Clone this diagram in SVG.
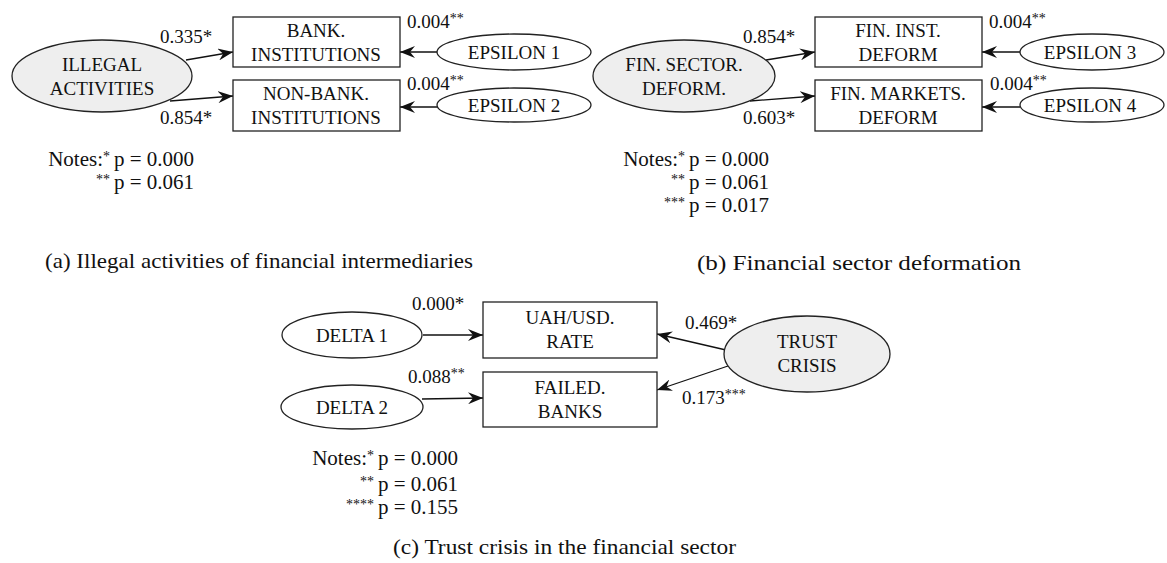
<svg xmlns="http://www.w3.org/2000/svg" width="1167" height="563" viewBox="0 0 1167 563">
<style>
text{font-family:"Liberation Serif","DejaVu Serif",serif;fill:#111}
.n{font-size:19px;text-anchor:middle}
.l{font-size:19px}
.note{font-size:21px}
.cap{font-size:22px}
.sup{font-size:14px}
.box{fill:#fff;stroke:#222;stroke-width:1.3}
.lat{fill:#eeeeee;stroke:#222;stroke-width:1.3}
.err{fill:#fff;stroke:#222;stroke-width:1.3}
.edge{stroke:#111;stroke-width:1.3;fill:none;marker-end:url(#ah)}
</style>
<defs>
<marker id="ah" markerUnits="userSpaceOnUse" markerWidth="16" markerHeight="12" refX="15" refY="6" orient="auto">
<path d="M0,0 L15,6 L0,12 L5,6 z" fill="#111"/>
</marker>
</defs>

<g id="connectors">
<line class="edge" x1="186" y1="60" x2="233" y2="52"/>
<line class="edge" x1="170" y1="101" x2="233" y2="96"/>
<line class="edge" x1="438" y1="52" x2="400" y2="52"/>
<line class="edge" x1="438" y1="107" x2="400" y2="107"/>
<line class="edge" x1="766" y1="60" x2="815" y2="52"/>
<line class="edge" x1="750" y1="101" x2="815" y2="96"/>
<line class="edge" x1="1020" y1="52" x2="982" y2="52"/>
<line class="edge" x1="1020" y1="107" x2="982" y2="107"/>
<line class="edge" x1="423" y1="335" x2="483" y2="335"/>
<line class="edge" x1="422" y1="399" x2="483" y2="398"/>
<line class="edge" x1="726" y1="350" x2="657" y2="334"/>
<line class="edge" x1="728" y1="366" x2="657" y2="390"/>
</g>

<g id="edge-labels">
<text class="l" x="160" y="43">0.335*</text>
<text class="l" x="160" y="124">0.854*</text>
<text class="l" x="407" y="28">0.004<tspan class="sup" dy="-5">**</tspan></text>
<text class="l" x="407" y="90">0.004<tspan class="sup" dy="-5">**</tspan></text>
<text class="l" x="743" y="43">0.854*</text>
<text class="l" x="743" y="124">0.603*</text>
<text class="l" x="989" y="28">0.004<tspan class="sup" dy="-5">**</tspan></text>
<text class="l" x="990" y="90">0.004<tspan class="sup" dy="-5">**</tspan></text>
<text class="l" x="412" y="310">0.000*</text>
<text class="l" x="408" y="383">0.088<tspan class="sup" dy="-5">**</tspan></text>
<text class="l" x="685" y="329">0.469*</text>
<text class="l" x="682" y="404">0.173<tspan class="sup" dy="-5">***</tspan></text>
</g>

<g id="illegal-activities">
<ellipse class="lat" cx="102" cy="76" rx="90" ry="36"/>
<text class="n" x="102" y="71">ILLEGAL</text>
<text class="n" x="102" y="95">ACTIVITIES</text>
</g>
<g id="bank-institutions">
<rect class="box" x="233" y="17" width="167" height="50"/>
<text class="n" x="316" y="37">BANK.</text>
<text class="n" x="316" y="61">INSTITUTIONS</text>
</g>
<g id="nonbank-institutions">
<rect class="box" x="233" y="80" width="167" height="51"/>
<text class="n" x="316" y="100">NON-BANK.</text>
<text class="n" x="316" y="124">INSTITUTIONS</text>
</g>
<g id="epsilon1">
<ellipse class="err" cx="514" cy="52" rx="77" ry="18"/>
<text class="n" x="514" y="59">EPSILON 1</text>
</g>
<g id="epsilon2">
<ellipse class="err" cx="514" cy="105" rx="77" ry="17"/>
<text class="n" x="514" y="112">EPSILON 2</text>
</g>

<g id="fin-sector-deform">
<ellipse class="lat" cx="684" cy="76" rx="91" ry="36"/>
<text class="n" x="684" y="71">FIN. SECTOR.</text>
<text class="n" x="684" y="95">DEFORM.</text>
</g>
<g id="fin-inst-deform">
<rect class="box" x="815" y="17" width="167" height="50"/>
<text class="n" x="898" y="37">FIN. INST.</text>
<text class="n" x="898" y="61">DEFORM</text>
</g>
<g id="fin-markets-deform">
<rect class="box" x="815" y="80" width="167" height="51"/>
<text class="n" x="898" y="100">FIN. MARKETS.</text>
<text class="n" x="898" y="124">DEFORM</text>
</g>
<g id="epsilon3">
<ellipse class="err" cx="1092" cy="52" rx="72" ry="18"/>
<text class="n" x="1090" y="59">EPSILON 3</text>
</g>
<g id="epsilon4">
<ellipse class="err" cx="1092" cy="105" rx="72" ry="17"/>
<text class="n" x="1090" y="112">EPSILON 4</text>
</g>

<g id="delta1">
<ellipse class="err" cx="352" cy="335" rx="70" ry="23"/>
<text class="n" x="352" y="342">DELTA 1</text>
</g>
<g id="delta2">
<ellipse class="err" cx="352" cy="407" rx="71" ry="22"/>
<text class="n" x="352" y="414">DELTA 2</text>
</g>
<g id="uah-usd-rate">
<rect class="box" x="483" y="302" width="174" height="56"/>
<text class="n" x="570" y="324">UAH/USD.</text>
<text class="n" x="570" y="348">RATE</text>
</g>
<g id="failed-banks">
<rect class="box" x="483" y="372" width="174" height="55"/>
<text class="n" x="570" y="394">FAILED.</text>
<text class="n" x="570" y="418">BANKS</text>
</g>
<g id="trust-crisis">
<ellipse class="lat" cx="807" cy="354" rx="83" ry="38"/>
<text class="n" x="807" y="348">TRUST</text>
<text class="n" x="807" y="372">CRISIS</text>
</g>

<g id="notes">
<text class="note" x="110" y="166" text-anchor="end">Notes:<tspan class="sup" dy="-5">*</tspan></text>
<text class="note" x="114" y="166">p = 0.000</text>
<text class="note" x="110" y="189" text-anchor="end"><tspan class="sup" dy="-5">**</tspan></text>
<text class="note" x="114" y="189">p = 0.061</text>

<text class="note" x="685" y="166" text-anchor="end">Notes:<tspan class="sup" dy="-5">*</tspan></text>
<text class="note" x="689" y="166">p = 0.000</text>
<text class="note" x="685" y="189" text-anchor="end"><tspan class="sup" dy="-5">**</tspan></text>
<text class="note" x="689" y="189">p = 0.061</text>
<text class="note" x="685" y="212" text-anchor="end"><tspan class="sup" dy="-5">***</tspan></text>
<text class="note" x="689" y="212">p = 0.017</text>

<text class="note" x="374" y="465" text-anchor="end">Notes:<tspan class="sup" dy="-5">*</tspan></text>
<text class="note" x="378" y="465">p = 0.000</text>
<text class="note" x="374" y="491" text-anchor="end"><tspan class="sup" dy="-5">**</tspan></text>
<text class="note" x="378" y="491">p = 0.061</text>
<text class="note" x="374" y="514" text-anchor="end"><tspan class="sup" dy="-5">****</tspan></text>
<text class="note" x="378" y="514">p = 0.155</text>
</g>

<g id="captions">
<text class="cap" x="45" y="268" textLength="428" lengthAdjust="spacingAndGlyphs">(a) Illegal activities of financial intermediaries</text>
<text class="cap" x="697" y="270" textLength="324" lengthAdjust="spacingAndGlyphs">(b) Financial sector deformation</text>
<text class="cap" x="393" y="554" textLength="343" lengthAdjust="spacingAndGlyphs">(c) Trust crisis in the financial sector</text>
</g>
</svg>
